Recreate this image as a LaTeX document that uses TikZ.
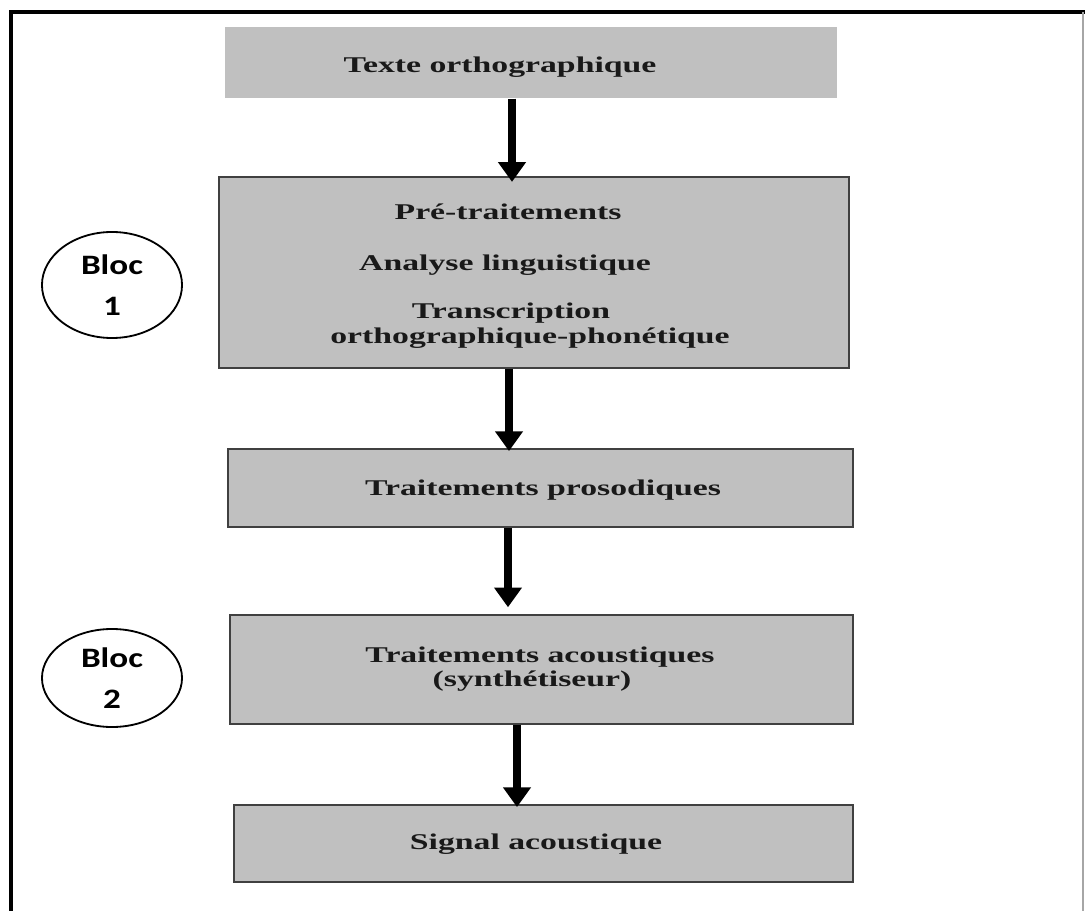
\documentclass[tikz,border=0pt]{standalone}
\usepackage{fontspec}
\setmainfont{Liberation Serif}
\newfontfamily\boxfont[FakeStretch=1.5]{Liberation Serif}
\newfontfamily\blocfont[FakeStretch=1.25]{Carlito}
\usetikzlibrary{arrows.meta,shapes.geometric}
\definecolor{boxgray}{HTML}{C0C0C0}
\definecolor{edgegray}{HTML}{404040}

\begin{document}
\begin{tikzpicture}[x=0.025cm,y=-0.025cm,
  box/.style={draw=edgegray,line width=1pt,fill=boxgray,inner sep=0pt},
  txt/.style={font=\boxfont\bfseries\fontsize{16}{18}\selectfont,text=black!90,anchor=base,inner sep=0pt},
  bloc/.style={draw,ellipse,line width=1.3pt,minimum width=3.5cm,inner sep=0pt,align=center,
    font=\blocfont\bfseries\fontsize{20}{29}\selectfont},
  flow/.style={line width=5.5pt,-{Triangle[width=19pt,length=14pt]}}]
\useasboundingbox (0,0) rectangle (1085,911);

%frame
\draw[line width=2.2pt] (11,911) -- (11,12) -- (1085,12);
\draw[gray!70,line width=1pt] (1083,12) -- (1083,911);

%boxes
\node[box,draw=none,minimum width=15.3cm,minimum height=1.775cm] (texte) at (531,62.5) {};
\node[box,minimum width=15.75cm,minimum height=4.775cm] (pretrait) at (534,272.5) {};
\node[box,minimum width=15.625cm,minimum height=1.95cm] (prosod) at (540.5,488) {};
\node[box,minimum width=15.575cm,minimum height=2.725cm] (acoust) at (541.5,669.5) {};
\node[box,minimum width=15.475cm,minimum height=1.925cm] (signal) at (543.5,843.5) {};

%box texts
\node[txt] (texteT) at (500,73) {Texte orthographique};
\node[txt] (preT) at (508,220) {Pré-traitements};
\node[txt] (analT) at (505,271) {Analyse linguistique};
\node[txt] (transT) at (511,319) {Transcription};
\node[txt] (orthT) at (530,344) {orthographique-phonétique};
\node[txt] (prosodT) at (543,495) {Traitements prosodiques};
\node[txt] (acoustT) at (540,662) {Traitements acoustiques};
\node[txt] (synthT) at (532,686) {(synthétiseur)};
\node[txt] (signalT) at (536,849) {Signal acoustique};

%arrows
\draw[flow,shorten >=-4pt] (texte.south -| 512,0) -- (pretrait.north -| 512,0);
\draw[flow,shorten >=-2pt] (pretrait.south -| 509,0) -- (prosod.north -| 509,0);
\draw[flow,shorten >=5pt] (prosod.south -| 508,0) -- (acoust.north -| 508,0);
\draw[flow,shorten >=-2pt] (acoust.south -| 517,0) -- (signal.north -| 517,0);

%blocs
\node[bloc,minimum height=2.65cm] (bloc1) at (112,285) {Bloc\\1};
\node[bloc,minimum height=2.45cm] (bloc2) at (112,678) {Bloc\\2};

\end{tikzpicture}
\end{document}
